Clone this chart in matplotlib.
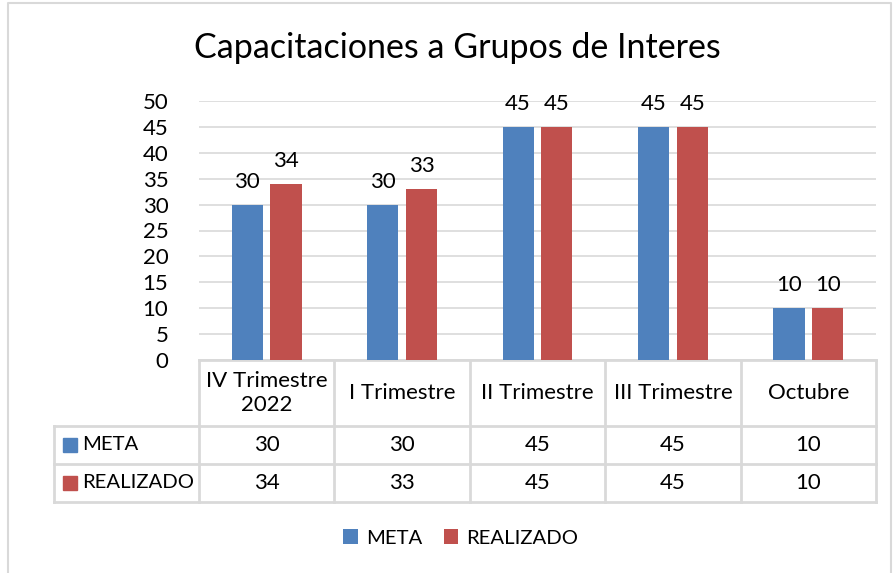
import matplotlib.pyplot as plt
from matplotlib.patches import Rectangle
import numpy as np

plt.rcParams['font.family'] = ['Lato', 'DejaVu Sans']

# Data
categories = ['IV Trimestre\n2022', 'I Trimestre', 'II Trimestre', 'III Trimestre', 'Octubre']
meta = [30, 30, 45, 45, 10]
realizado = [34, 33, 45, 45, 10]
series_names = ['META', 'REALIZADO']

blue = '#4F81BD'
red = '#C0504D'
grid_c = '#D9D9D9'
fs = 16
fs_caps = 14.6  # Lato capitals run wider than Calibri

W, H = 893, 573
fig = plt.figure(figsize=(W / 100, H / 100), dpi=100)

def fx(px):
    return px / W

def fy(py):
    return 1 - py / H

# overlay axes in pixel coordinates for frame + table
ov = fig.add_axes([0, 0, 1, 1])
ov.set_xlim(0, W)
ov.set_ylim(H, 0)
ov.axis('off')

# chart frame
ov.plot([8, 8, 891, 891], [H + 5, 3, 3, H + 5], color=grid_c, lw=1.5, clip_on=False)

# main axes
left, right, top, bottom = 199, 876, 101, 360
ax = fig.add_axes([fx(left), fy(bottom), fx(right - left), fy(top) - fy(bottom)])
x = np.arange(len(categories))
w = 0.23
b1 = ax.bar(x - 0.143, meta, w, color=blue, label=series_names[0], zorder=3)
b2 = ax.bar(x + 0.143, realizado, w, color=red, label=series_names[1], zorder=3)
for bars, vals in ((b1, meta), (b2, realizado)):
    for r, v in zip(bars, vals):
        ax.text(r.get_x() + r.get_width() / 2, v + 2.5, str(v), ha='center', va='bottom',
                fontsize=fs, clip_on=False)
ax.set_xlim(-0.5, len(categories) - 0.5)
ax.set_ylim(0, 50)
ax.set_yticks(range(0, 51, 5))
ax.tick_params(axis='y', length=0, labelsize=fs, pad=22)
ax.set_xticks([])
ax.yaxis.grid(True, color=grid_c, lw=1.2, zorder=0)
for s in ax.spines.values():
    s.set_visible(False)
ax.set_facecolor('none')

# title
fig.text(fx(457), fy(48), 'Capacitaciones a Grupos de Interes', ha='center', va='center',
         fontsize=24.5)

# data table
col_edges = np.linspace(left, right, len(categories) + 1)
row_edges = [bottom, 426, 464, 502]
lab_left = 54
lw_t = 2
# vertical lines
for i, xe in enumerate(col_edges):
    ov.plot([xe, xe], [row_edges[0], row_edges[-1]], color=grid_c, lw=lw_t)
ov.plot([lab_left, lab_left], [row_edges[1], row_edges[-1]], color=grid_c, lw=lw_t)
# horizontal lines
for j, ye in enumerate(row_edges):
    x0 = left if j == 0 else lab_left
    ov.plot([x0, right], [ye, ye], color=grid_c, lw=lw_t)

for i, cat in enumerate(categories):
    cx = (col_edges[i] + col_edges[i + 1]) / 2
    ov.text(cx, (row_edges[0] + row_edges[1]) / 2, cat, ha='center', va='center',
            fontsize=fs, linespacing=1.3)
    for j, vals in enumerate((meta, realizado)):
        ov.text(cx, (row_edges[j + 1] + row_edges[j + 2]) / 2, str(vals[i]),
                ha='center', va='center', fontsize=fs)

for j, (name, c) in enumerate(zip(series_names, (blue, red))):
    cy = (row_edges[j + 1] + row_edges[j + 2]) / 2
    ov.add_patch(Rectangle((63, cy - 7), 14, 14, color=c))
    ov.text(82, cy, name, ha='left', va='center', fontsize=fs_caps)

# legend
leg = fig.legend(handles=[b1, b2], loc='center', bbox_to_anchor=(fx(461), fy(538)), ncol=2,
                 frameon=False, fontsize=fs_caps, handlelength=0.7, handleheight=0.7,
                 handletextpad=0.4, columnspacing=1.1)

fig.savefig('out.png', dpi=100)
